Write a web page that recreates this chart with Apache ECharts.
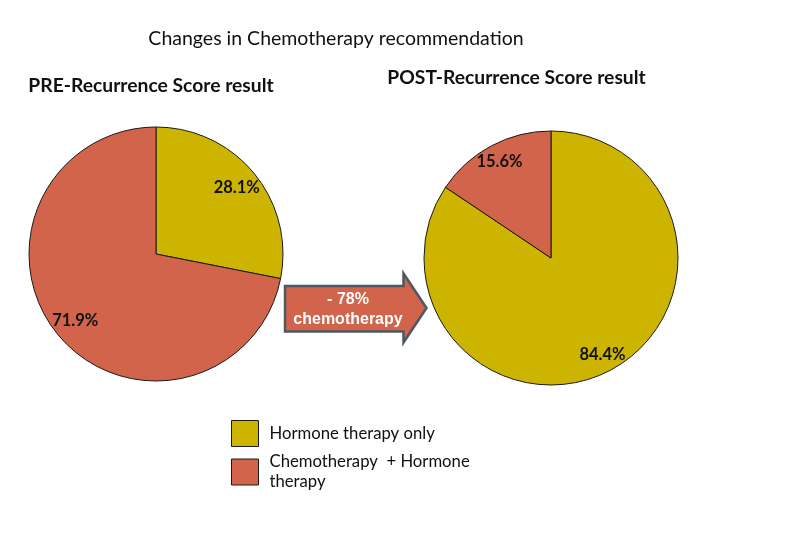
<!DOCTYPE html>
<html>
<head>
<meta charset="utf-8">
<script src="https://cdn.jsdelivr.net/npm/echarts@6/dist/echarts.min.js"></script>
<style>html,body{margin:0;padding:0;background:#fff}#c{width:794px;height:536px}</style>
</head>
<body>
<div id="c"></div>
<script>
const categories = ['Hormone therapy only', 'Chemotherapy  + Hormone therapy'];
const preValues = [28.1, 71.9];
const postValues = [84.4, 15.6];
const colors = ['#CDB400', '#D1644B'];
const chartTitle = 'Changes in Chemotherapy recommendation';
const preTitle = 'PRE-Recurrence Score result';
const postTitle = 'POST-Recurrence Score result';
const arrowText = ['- 78%', 'chemotherapy'];

const font = 'Lato, "Open Sans", sans-serif';
const chart = echarts.init(document.getElementById('c'), null, {renderer: 'canvas'});

function pieData(vals) {
  return categories.map((n, i) => ({name: n, value: vals[i], itemStyle: {color: colors[i]}}));
}
function mainPie(vals, center) {
  return {
    type: 'pie', center: center, radius: [0, 127], startAngle: 90, clockwise: true,
    data: pieData(vals), label: {show: false}, labelLine: {show: false},
    itemStyle: {borderColor: '#1a1a1a', borderWidth: 1},
    emphasis: {disabled: true}, animation: false
  };
}
function labelPie(vals, center, inner) {
  return {
    type: 'pie', center: center, radius: [inner, 127], startAngle: 90, clockwise: true,
    silent: true, legendHoverLink: false,
    data: categories.map((n, i) => ({name: n, value: vals[i], itemStyle: {color: 'rgba(0,0,0,0)', borderWidth: 0}})),
    label: {show: true, position: 'inside', formatter: p => p.value.toFixed(1) + '%',
      color: '#111', fontWeight: 'bold', fontSize: 16.5, fontFamily: font},
    labelLine: {show: false}, emphasis: {disabled: true}, animation: false
  };
}

chart.setOption({
  backgroundColor: '#fff',
  animation: false,
  legend: {
    data: categories, orient: 'vertical', left: 231, top: 420, padding: 0,
    itemWidth: 27, itemHeight: 26, itemGap: 5, selectedMode: false,
    icon: 'rect',
    itemStyle: {borderColor: '#1a1a1a', borderWidth: 1},
    formatter: n => n === categories[1] ? 'Chemotherapy  + Hormone\ntherapy' : n,
    textStyle: {fontFamily: font, fontSize: 16.7, color: '#111', lineHeight: 20, padding: [0, 0, 0, 6]}
  },
  series: [
    mainPie(preValues, [156, 254]),
    mainPie(postValues, [551, 258]),
    labelPie(preValues, [156, 254], 76),
    labelPie(postValues, [551, 258], 86)
  ],
  graphic: [
    {type: 'text', x: 336, y: 39, style: {text: chartTitle, font: '19.5px ' + font, fill: '#111', align: 'center', verticalAlign: 'middle'}},
    {type: 'text', x: 151, y: 86, style: {text: preTitle, font: 'bold 19.3px ' + font, fill: '#111', align: 'center', verticalAlign: 'middle'}},
    {type: 'text', x: 516.5, y: 78, style: {text: postTitle, font: 'bold 19.3px ' + font, fill: '#111', align: 'center', verticalAlign: 'middle'}},
    {type: 'polygon', shape: {points: [[285, 286], [403.5, 286], [403.5, 273.5], [426.5, 308], [403.5, 342.5], [403.5, 331.5], [285, 331.5]]},
      style: {fill: '#D1644B', stroke: '#4d5863', lineWidth: 2.5, lineJoin: 'miter'}},
    {type: 'text', x: 348, y: 300, style: {text: arrowText[0], font: 'bold 16px "Liberation Sans", Arial, sans-serif', fill: '#fff', align: 'center', verticalAlign: 'middle'}},
    {type: 'text', x: 348, y: 320, style: {text: arrowText[1], font: 'bold 16px "Liberation Sans", Arial, sans-serif', fill: '#fff', align: 'center', verticalAlign: 'middle'}}
  ]
});
</script>
</body>
</html>
